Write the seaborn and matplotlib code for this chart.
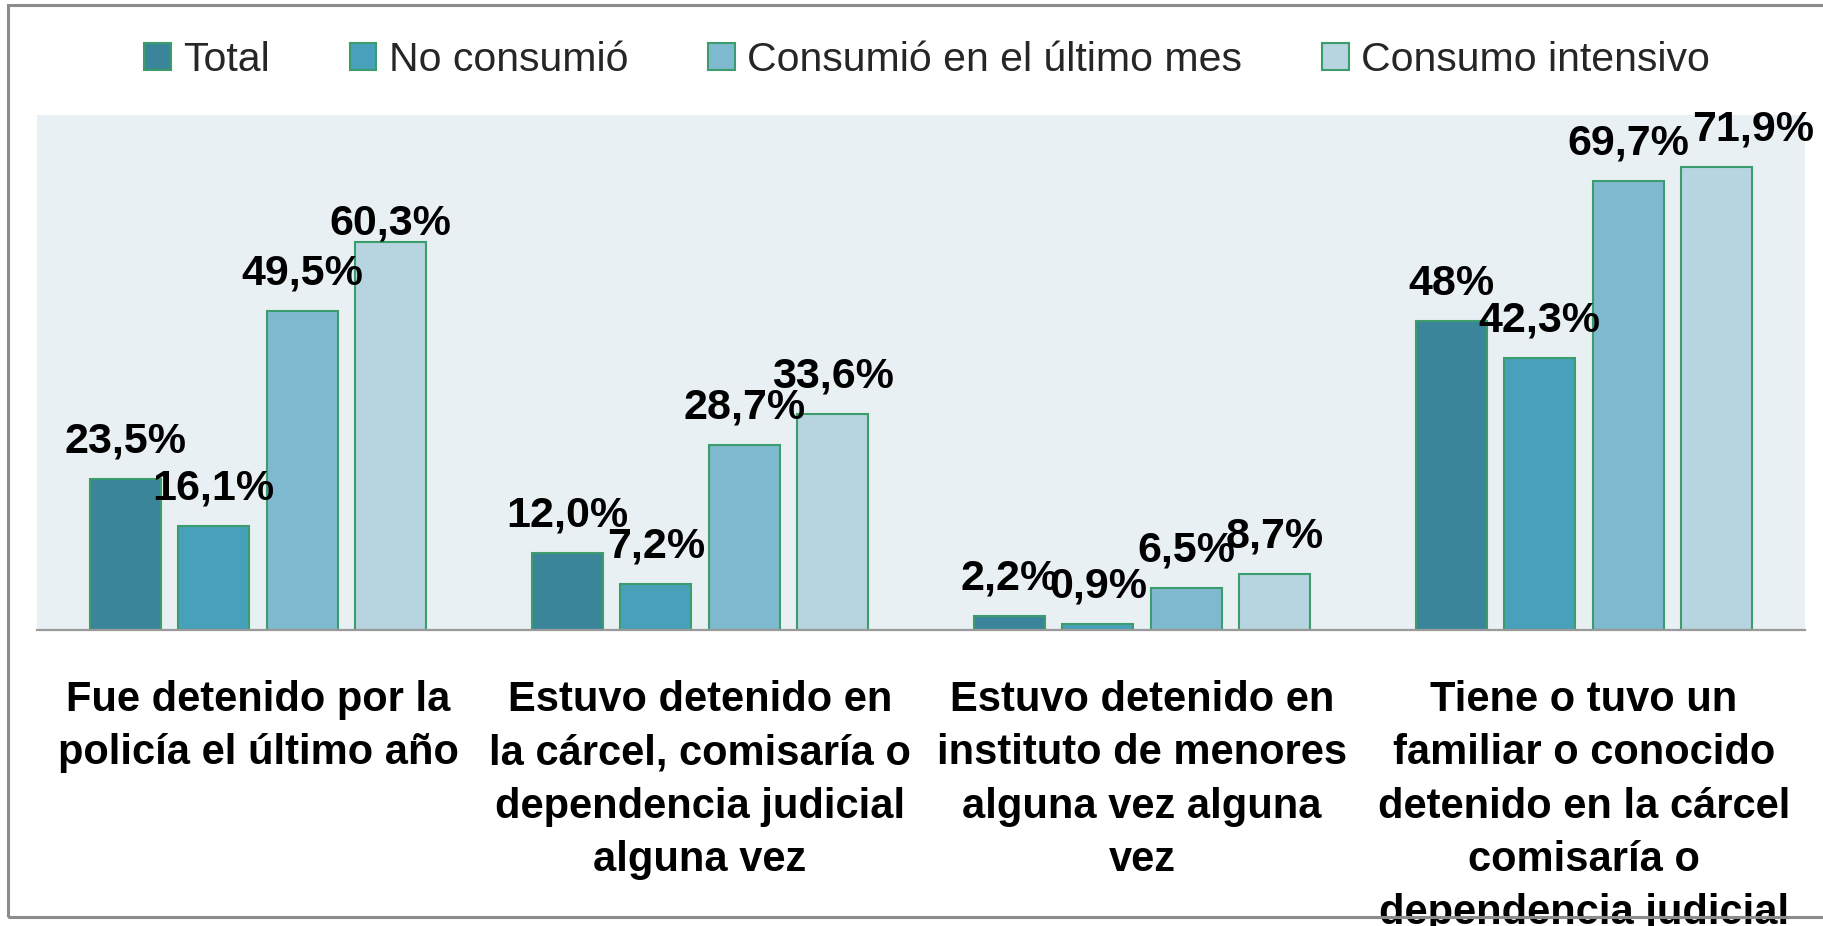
import matplotlib
matplotlib.use("Agg")
import matplotlib.pyplot as plt
from matplotlib.patches import Rectangle
import pandas as pd
import seaborn as sns

# --- data -------------------------------------------------------------
categories = [
    "Fue detenido por la\npolicía el último año",
    "Estuvo detenido en\nla cárcel, comisaría o\ndependencia judicial\nalguna vez",
    "Estuvo detenido en\ninstituto de menores\nalguna vez alguna\nvez",
    "Tiene o tuvo un\nfamiliar o conocido\ndetenido en la cárcel\ncomisaría o\ndependencia judicial",
]
series = ["Total", "No consumió", "Consumió en el último mes", "Consumo intensivo"]

# percentages as printed (decimal comma)
total = ["23,5", "12,0", "2,2", "48"]
no_consumio = ["16,1", "7,2", "0,9", "42,3"]
consumio_mes = ["49,5", "28,7", "6,5", "69,7"]
consumo_intensivo = ["60,3", "33,6", "8,7", "71,9"]

colors = ["#3A8599", "#48A1BA", "#7FB9CF", "#B7D5E0"]
edge_green = "#3C9D6C"

# --- table ------------------------------------------------------------
rows = []
for name, vals in zip(series, [total, no_consumio, consumio_mes, consumo_intensivo]):
    for cat, txt in zip(categories, vals):
        rows.append({"categoria": cat, "serie": name,
                     "valor": float(txt.replace(",", ".")), "texto": txt + "%"})
df = pd.DataFrame(rows)

# --- style ------------------------------------------------------------
sns.set_style("white")
plt.rcParams["font.family"] = ["Liberation Sans", "DejaVu Sans"]

fig = plt.figure(figsize=(18.23, 9.26), dpi=100)
ax = fig.add_axes([37 / 1823, 1 - 630 / 926, 1768 / 1823, 515 / 926])
ax.set_facecolor("#E8F0F4")

sns.barplot(data=df, x="categoria", y="valor", hue="serie", order=categories,
            hue_order=series, palette=colors, saturation=1, width=0.8, gap=0.2,
            edgecolor=edge_green, linewidth=1.5, errorbar=None, ax=ax)

ax.set_ylim(0, 80)
ax.set_xlim(-0.5, len(categories) - 0.5)
ax.set_xlabel("")
ax.set_ylabel("")
ax.set_yticks([])
for side in ["top", "right", "left"]:
    ax.spines[side].set_visible(False)
ax.spines["bottom"].set_color("#9A9A9A")
ax.spines["bottom"].set_linewidth(1.6)

ax.tick_params(axis="x", length=0, pad=36)
for lbl in ax.get_xticklabels():
    lbl.set_fontsize(30)
    lbl.set_fontweight("bold")
    lbl.set_multialignment("center")
    lbl.set_linespacing(1.43)
    lbl.set_color("black")

# value labels above each bar; a few are nudged (dx, dy in points)
label_shift = {
    ("Consumo intensivo", categories[0]): (0, 5),
    ("Consumo intensivo", categories[3]): (26, 19),
}
for name, container in zip(series, ax.containers):
    sub = df[df["serie"] == name].set_index("categoria").loc[categories]
    for cat, bar, txt in zip(categories, container, sub["texto"]):
        dx, dy = label_shift.get((name, cat), (0, 19))
        ax.annotate(txt, (bar.get_x() + bar.get_width() / 2, bar.get_height()),
                    xytext=(dx, dy), textcoords="offset points",
                    ha="center", va="baseline", fontsize=31,
                    fontweight="bold", color="black", annotation_clip=False)

# legend across the top of the figure
handles, labels = ax.get_legend_handles_labels()
ax.get_legend().remove()
for h in handles:
    h.set_edgecolor(edge_green)
    h.set_linewidth(1.5)
fig.legend(handles, labels, loc="center", bbox_to_anchor=(0.5085, 1 - 60 / 926),
           ncol=4, frameon=False, fontsize=29.5, handlelength=0.65,
           handleheight=0.65, handletextpad=0.3, columnspacing=1.95)

# frame around the chart
fig.patches.append(Rectangle((8 / 1823, 1 - 917 / 926), 1.05, (917 - 5) / 926,
                             transform=fig.transFigure, fill=False,
                             edgecolor="#8C8C8C", linewidth=2.2, zorder=10))

fig.savefig("out.png", dpi=100)
